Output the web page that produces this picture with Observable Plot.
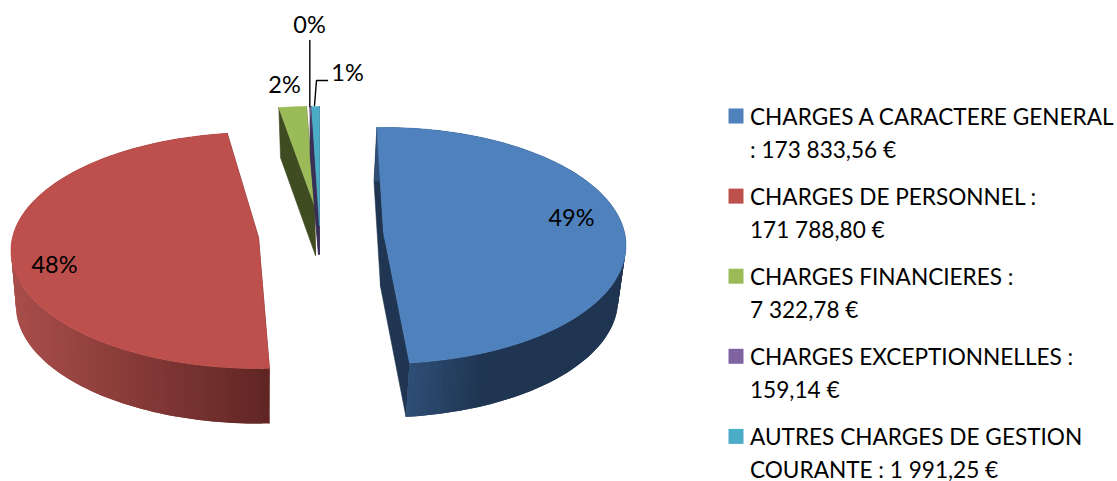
<!DOCTYPE html>
<html>
<head>
<meta charset="utf-8">
<script src="https://cdn.jsdelivr.net/npm/d3@7"></script>
<script src="https://cdn.jsdelivr.net/npm/@observablehq/plot@0.6"></script>
<style>html,body{margin:0;padding:0;background:#fff}svg{display:block}</style>
</head>
<body>
<div id="chart"></div>
<script>
const categories = ["CHARGES A CARACTERE GENERAL","CHARGES DE PERSONNEL","CHARGES FINANCIERES","CHARGES EXCEPTIONNELLES","AUTRES CHARGES DE GESTION COURANTE"];
const values = [173833.56, 171788.80, 7322.78, 159.14, 1991.25];
const percentLabels = ["49%","48%","2%","0%","1%"];
const legendLabels = [
  "CHARGES A CARACTERE GENERAL\n: 173 833,56 €",
  "CHARGES DE PERSONNEL :\n171 788,80 €",
  "CHARGES FINANCIERES :\n7 322,78 €",
  "CHARGES EXCEPTIONNELLES :\n159,14 €",
  "AUTRES CHARGES DE GESTION\nCOURANTE : 1 991,25 €"
];
const faceColors = ["#4f81bd","#bd4f4c","#9bbb59","#8064a2","#4bacc6"];
const cutColors = ["#1f3551","#5f2523","#3f4c22","#3a2f55","#3a2f55"];

// drawing geometry for the exploded 3D look (centre, radii, rotation, depth per slice)
const W = 1117, H = 481, persp = 0.11, ringScale = 0.98;
const geom = [
  {cx:383, cy:232, a:241, b:116.6, rot:-1.75, depth:54, dx:-3},
  {cx:258, cy:237, a:246, b:116.6, rot:1.5,  depth:55, dx:0},
  {cx:314, cy:205, a:237, b:110,   rot:0,    depth:50, dx:1},
  {cx:318, cy:205, a:250, b:110,   rot:0,    depth:49, dx:0},
  {cx:319, cy:225, a:250, b:132,   rot:0,    depth:29, dx:0}
];
const wallRamp = [
  x => d3.interpolateRgb("#2f4e76","#1f3551")(Math.min(1,Math.max(0,(x-405)/75))),
  x => d3.interpolateRgb("#a94e4b","#602523")(Math.min(1,Math.max(0,(x-14)/256)))
];

const total = d3.sum(values);
const pos = (g, deg, low) => {
  const t = deg*Math.PI/180, u = Math.sin(t), v = -Math.cos(t), w = 1-persp*v;
  const k = low ? ringScale : 1;
  return [g.cx+(low?g.dx:0)+g.a*k*u/w, g.cy+(low?g.depth:0)+g.b*v/w];
};
let acc = 0;
const slices = values.map((val,i)=>{const s=acc; acc+=val/total*360; return {i,start:s+geom[i].rot,end:acc+geom[i].rot};});

const rows = [];
const poly = (id, pts, fill, line) => pts.concat([pts[0]]).forEach(p=>rows.push({id,x:p[0],y:p[1],fill,line}));
slices.forEach(({i,start,end})=>{
  const g = geom[i];
  const apexT=[g.cx,g.cy], apexB=[g.cx+g.dx,g.cy+g.depth];
  // cut faces
  poly(`cutA${i}`,[pos(g,start),apexT,apexB,pos(g,start,true)],cutColors[i],cutColors[i]);
  poly(`cutB${i}`,[pos(g,end),apexT,apexB,pos(g,end,true)],cutColors[i],cutColors[i]);
  const n = Math.max(1,Math.ceil((end-start)/1.5));
  const ang = d3.range(n+1).map(k=>start+(end-start)*k/n);
  // outer wall: overlapping shaded strips, each running under the next
  if (i<2) ang.slice(0,-1).forEach((p,k)=>{
    const q = ang[k+1], r = ang[Math.min(k+2,n)];
    const xm=(pos(g,p,true)[0]+pos(g,q,true)[0])/2;
    poly(`wall${i}-${k}`,[pos(g,p),pos(g,q),pos(g,r),pos(g,r,true),pos(g,q,true),pos(g,p,true)],wallRamp[i](xm),"none");
  });
  // top face
  poly(`top${i}`,[apexT,...ang.map(a=>pos(g,a))],faceColors[i],faceColors[i]);
});

const labelPos = [[571,218],[54,265],[284,85],[309,25],[347,73]];
const pctRows = percentLabels.map((t,i)=>({t,x:labelPos[i][0],y:labelPos[i][1]}));
const leaders = [
  {id:"a",x:309.3,y:40},{id:"a",x:309.3,y:106},
  {id:"b",x:314,y:105},{id:"b",x:316,y:80},{id:"b",x:327,y:80}
];
const fontSize=22.6, legendX=749.5, swatchX=735.5, firstRow=115.5, rowStep=80.1, lineGap=33;
const legendRows = categories.map((c,i)=>({c,label:legendLabels[i],fill:faceColors[i],
  sy:firstRow+i*rowStep, ty:firstRow+i*rowStep+lineGap/2-2}));

const font = "Lato, Carlito, Calibri, sans-serif";
const chart = Plot.plot({
  width:W, height:H, margin:0,
  x:{domain:[0,W],range:[0,W],axis:null},
  y:{domain:[0,H],range:[0,H],axis:null},
  color:{type:"identity"},
  style:{background:"#fff"},
  marks:[
    Plot.line(rows,{x:"x",y:"y",z:"id",fill:"fill",stroke:"line",strokeWidth:0.6,strokeLinejoin:"round"}),
    Plot.line(leaders,{x:"x",y:"y",z:"id",stroke:"#000",strokeWidth:1.4,strokeLinejoin:"miter"}),
    Plot.text(pctRows,{x:"x",y:"y",text:"t",fill:"#000",fontSize:23.5,fontFamily:font}),
    Plot.dot(legendRows,{x:()=>swatchX,y:"sy",fill:"fill",symbol:"square",r:8.46}),
    Plot.text(legendRows,{x:()=>legendX,y:"ty",text:"label",textAnchor:"start",lineHeight:lineGap/fontSize,fill:"#000",fontSize,fontFamily:font})
  ]
});
document.getElementById("chart").append(chart);
</script>
</body>
</html>
